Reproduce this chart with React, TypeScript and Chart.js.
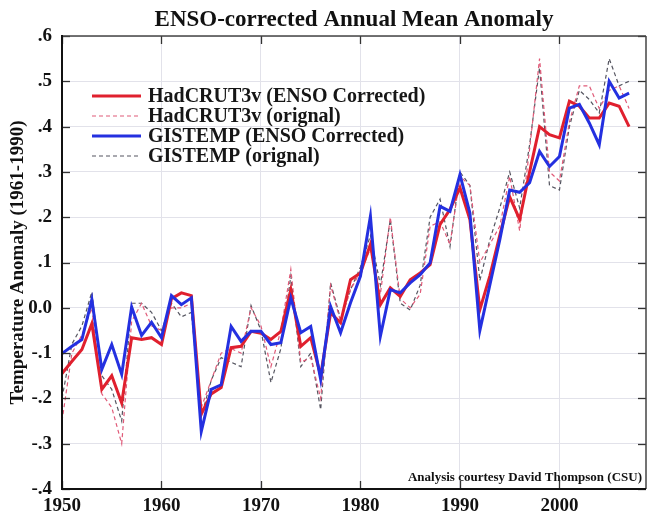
import React, { useEffect, useRef } from "react";
import { Chart, registerables } from "chart.js";

Chart.register(...registerables);

const titleText = "ENSO-corrected Annual Mean Anomaly";
const yAxisTitle = "Temperature Anomaly (1961-1990)";
const creditText = "Analysis courtesy David Thompson (CSU)";

const years = [
  1950, 1951, 1952, 1953, 1954, 1955, 1956, 1957, 1958, 1959,
  1960, 1961, 1962, 1963, 1964, 1965, 1966, 1967, 1968, 1969,
  1970, 1971, 1972, 1973, 1974, 1975, 1976, 1977, 1978, 1979,
  1980, 1981, 1982, 1983, 1984, 1985, 1986, 1987, 1988, 1989,
  1990, 1991, 1992, 1993, 1994, 1995, 1996, 1997, 1998, 1999,
  2000, 2001, 2002, 2003, 2004, 2005, 2006, 2007,
];

const hadcrutCorrected = [
  -0.145, -0.118, -0.092, -0.035, -0.18, -0.15, -0.21, -0.066, -0.07, -0.066,
  -0.081, 0.02, 0.033, 0.027, -0.235, -0.19, -0.176, -0.088, -0.085, -0.052,
  -0.056, -0.07, -0.052, 0.04, -0.085, -0.066, -0.15, -0.011, -0.033, 0.062,
  0.077, 0.14, 0.007, 0.044, 0.025, 0.062, 0.077, 0.095, 0.184, 0.217,
  0.265, 0.195, -0.004, 0.07, 0.16, 0.245, 0.195, 0.3, 0.4, 0.382,
  0.375, 0.456, 0.445, 0.419, 0.419, 0.452, 0.445, 0.4,
];

const hadcrutOriginal = [
  -0.25, -0.1, -0.06, 0.0, -0.19, -0.22, -0.3, -0.03, 0.01, -0.04,
  -0.05, 0.0, 0.0, 0.01, -0.22, -0.16, -0.1, -0.09, -0.1, 0.0,
  -0.04, -0.13, -0.05, 0.085, -0.12, -0.11, -0.2, 0.05, -0.03, 0.04,
  0.08, 0.13, 0.03, 0.2, 0.02, 0.0, 0.03, 0.18, 0.19, 0.14,
  0.29, 0.27, 0.1, 0.14, 0.18, 0.29, 0.17, 0.35, 0.55, 0.3,
  0.28, 0.41, 0.49, 0.49, 0.44, 0.48, 0.49, 0.44,
];

const gistempCorrected = [
  -0.101, -0.085, -0.07, 0.018, -0.136, -0.081, -0.147, 0.002, -0.061, -0.032,
  -0.066, 0.027, 0.007, 0.022, -0.273, -0.18, -0.17, -0.041, -0.074, -0.052,
  -0.052, -0.081, -0.077, 0.022, -0.055, -0.041, -0.158, 0.003, -0.055, 0.011,
  0.07, 0.202, -0.063, 0.04, 0.033, 0.055, 0.073, 0.099, 0.224, 0.213,
  0.294, 0.209, -0.05, 0.05, 0.15, 0.26, 0.255, 0.276, 0.345, 0.312,
  0.334, 0.441, 0.449, 0.408, 0.36, 0.5, 0.463, 0.474,
];

const gistempOriginal = [
  -0.2, -0.08, -0.04, 0.035, -0.15, -0.18, -0.25, 0.01, 0.01, -0.01,
  -0.05, 0.01, -0.02, -0.01, -0.24, -0.16, -0.11, -0.12, -0.13, 0.005,
  -0.05, -0.165, -0.09, 0.07, -0.13, -0.1, -0.225, 0.055, -0.025, 0.04,
  0.09, 0.16, 0.05, 0.195, 0.01, -0.005, 0.05, 0.2, 0.24, 0.135,
  0.3, 0.27, 0.06, 0.15, 0.22, 0.3, 0.22, 0.36, 0.53, 0.27,
  0.26, 0.4, 0.48, 0.46, 0.43, 0.55, 0.49, 0.5,
];

const seriesLabels = [
  "HadCRUT3v (ENSO Corrected)",
  "HadCRUT3v (orignal)",
  "GISTEMP (ENSO Corrected)",
  "GISTEMP (orignal)",
];

const xTickValues = [1950, 1960, 1970, 1980, 1990, 2000];
const yTickValues = [-0.4, -0.3, -0.2, -0.1, 0, 0.1, 0.2, 0.3, 0.4, 0.5, 0.6];
const yTickLabels = ["-.4", "-.3", "-.2", "-.1", "0.0", ".1", ".2", ".3", ".4", ".5", ".6"];

const FONT = '"Liberation Serif", "Times New Roman", serif';

const toPoints = (vals: number[]) => years.map((yr, i) => ({ x: yr, y: vals[i] }));

const decorPlugin = {
  id: "decor",
  afterDraw(chart: any) {
    const { ctx, chartArea: a, scales } = chart;
    const xs = scales.x;
    const ys = scales.y;
    ctx.save();
    const line = (x1: number, y1: number, x2: number, y2: number) => {
      ctx.beginPath();
      ctx.moveTo(x1, y1);
      ctx.lineTo(x2, y2);
      ctx.stroke();
    };
    // inward ticks
    ctx.strokeStyle = "#333";
    ctx.lineWidth = 1.3;
    xTickValues.forEach((v) => {
      const px = Math.round(xs.getPixelForValue(v)) + 0.5;
      line(px, a.top, px, a.top + 8);
      line(px, a.bottom, px, a.bottom - 8);
    });
    yTickValues.forEach((v) => {
      const py = Math.round(ys.getPixelForValue(v)) + 0.5;
      line(a.left, py, a.left + 8, py);
      line(a.right, py, a.right - 8, py);
    });
    // frame
    ctx.strokeStyle = "#444";
    ctx.lineWidth = 1.5;
    line(a.left, a.top, a.right, a.top);
    line(a.right, a.top, a.right, a.bottom);
    ctx.strokeStyle = "#111";
    ctx.lineWidth = 2;
    line(a.left, a.top - 1, a.left, a.bottom + 1);
    line(a.left - 1, a.bottom, a.right, a.bottom);

    // title
    ctx.fillStyle = "#111";
    ctx.font = `bold 23px ${FONT}`;
    ctx.textAlign = "center";
    ctx.textBaseline = "alphabetic";
    ctx.fillText(titleText, (a.left + a.right) / 2, 26);

    // legend
    const ds = chart.data.datasets;
    const rowY = [96, 116, 136, 156];
    ds.forEach((d: any, i: number) => {
      const y = rowY[i];
      ctx.strokeStyle = d.borderColor;
      ctx.lineWidth = d.borderWidth;
      ctx.setLineDash(d.borderDash || []);
      line(92, y, 141, y);
      ctx.setLineDash([]);
      ctx.fillStyle = "#161616";
      ctx.font = `bold 20px ${FONT}`;
      ctx.textAlign = "left";
      ctx.textBaseline = "middle";
      ctx.fillText(d.label, 148, y + 1);
    });

    // credit
    ctx.font = `bold 13px ${FONT}`;
    ctx.textAlign = "right";
    ctx.textBaseline = "alphabetic";
    ctx.fillStyle = "#111";
    ctx.fillText(creditText, a.right - 4, a.bottom - 8);
    ctx.restore();
  },
};

export default function App() {
  const ref = useRef<HTMLCanvasElement | null>(null);

  useEffect(() => {
    if (!ref.current) return;
    const chart = new Chart(ref.current, {
      type: "line",
      data: {
        datasets: [
          {
            label: seriesLabels[0],
            data: toPoints(hadcrutCorrected),
            borderColor: "#e0202e",
            borderWidth: 3,
            pointRadius: 0,
            tension: 0,
            order: 1,
          },
          {
            label: seriesLabels[1],
            data: toPoints(hadcrutOriginal),
            borderColor: "#e05a78",
            borderWidth: 1.2,
            borderDash: [4, 3],
            pointRadius: 0,
            tension: 0,
            order: 2,
          },
          {
            label: seriesLabels[2],
            data: toPoints(gistempCorrected),
            borderColor: "#2430e0",
            borderWidth: 3,
            pointRadius: 0,
            tension: 0,
            order: 0,
          },
          {
            label: seriesLabels[3],
            data: toPoints(gistempOriginal),
            borderColor: "#555560",
            borderWidth: 1.2,
            borderDash: [4, 3],
            pointRadius: 0,
            tension: 0,
            order: 3,
          },
        ],
      },
      options: {
        responsive: false,
        animation: false,
        layout: { padding: { top: 36, right: 1, left: 0, bottom: 0 } },
        plugins: {
          legend: { display: false },
          tooltip: { enabled: false },
          title: { display: false },
        },
        scales: {
          x: {
            type: "linear",
            min: 1950,
            max: 2008.7,
            afterBuildTicks: (scale: any) => {
              scale.ticks = xTickValues.map((v) => ({ value: v }));
            },
            afterFit: (scale: any) => {
              scale.height = 22;
            },
            grid: { color: "#e2e2ea", lineWidth: 1, drawTicks: false },
            border: { display: false },
            ticks: {
              padding: 6,
              color: "#111",
              font: { family: FONT, size: 19, weight: "bold" },
              maxRotation: 0,
              callback: (v: any) => String(v),
            },
          },
          y: {
            type: "linear",
            min: -0.4,
            max: 0.6,
            afterBuildTicks: (scale: any) => {
              scale.ticks = yTickValues.map((v) => ({ value: v }));
            },
            afterFit: (scale: any) => {
              scale.width = 62;
            },
            grid: { color: "#e2e2ea", lineWidth: 1, drawTicks: false },
            border: { display: false },
            title: {
              display: true,
              text: yAxisTitle,
              color: "#111",
              font: { family: FONT, size: 19, weight: "bold" },
              padding: { top: 7, bottom: 0 },
            },
            ticks: {
              padding: 10,
              color: "#111",
              font: { family: FONT, size: 19, weight: "bold" },
              callback: (v: any) => {
                const idx = yTickValues.findIndex((t) => Math.abs(t - v) < 1e-6);
                return idx >= 0 ? yTickLabels[idx] : "";
              },
            },
          },
        },
      },
      plugins: [decorPlugin],
    } as any);
    return () => chart.destroy();
  }, []);

  return (
    <div style={{ position: "absolute", left: 0, top: 0, width: 647, height: 511, background: "#fff" }}>
      <canvas ref={ref} width={647} height={511} style={{ display: "block" }} />
    </div>
  );
}
